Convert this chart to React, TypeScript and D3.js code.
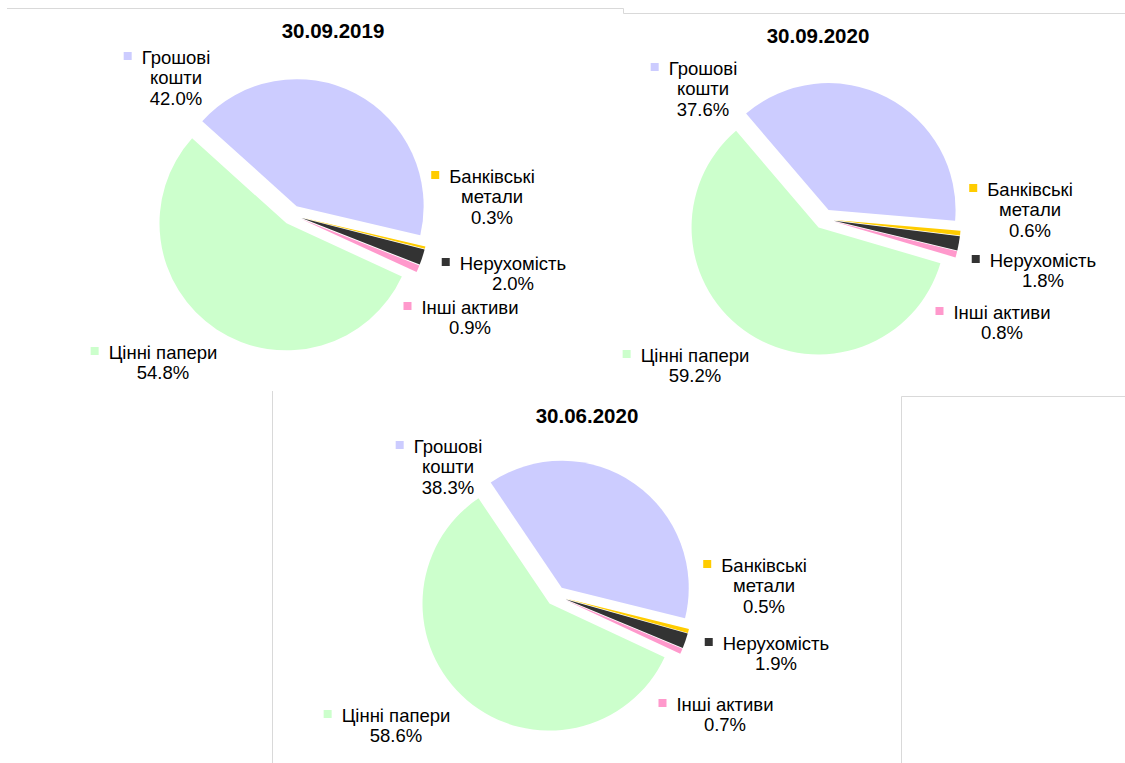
import React, { useEffect, useRef } from "react";
import * as d3 from "d3";

// ---- data ----
const categories = ["Грошові кошти", "Банківські метали", "Нерухомість", "Інші активи", "Цінні папери"];
const labelLines = [["Грошові", "кошти"], ["Банківські", "метали"], ["Нерухомість"], ["Інші активи"], ["Цінні папери"]];
const sliceColors = ["#CCCCFF", "#FFCC00", "#333333", "#FF99CC", "#CCFFCC"];
const dates = ["30.09.2019", "30.09.2020", "30.06.2020"];
const values2019 = [42.0, 0.3, 2.0, 0.9, 54.8];
const values2020 = [37.6, 0.6, 1.8, 0.8, 59.2];
const values2020Q2 = [38.3, 0.5, 1.9, 0.7, 58.6];
const seriesValues = [values2019, values2020, values2020Q2];

// ---- layout (positions only) ----
const chartCenters = [[292, 215], [824, 219], [556, 596]];
const startAnglesDeg = [-48, -40.5, -34];
const titlePos = [[333, 30], [818, 35], [587, 415]];
const labelPos = [
  [[176, 57], [492, 176], [513, 263], [470, 307], [163, 352]],
  [[703, 68], [1030, 189], [1043, 260], [1002, 312], [695, 355]],
  [[448, 446], [764, 565], [776, 643], [725, 704], [396, 715]],
];
const RADIUS = 127;
const EXPLODE = 10;
const LINE_H = 20.5;
const FONT = "Arial, 'Liberation Sans', sans-serif";

export default function App() {
  const ref = useRef<SVGSVGElement>(null);

  useEffect(() => {
    const svg = d3.select(ref.current);
    svg.selectAll("*").remove();
    svg.append("rect").attr("width", 1125).attr("height", 763).attr("fill", "#fff");

    // chart frames
    const frame = svg.append("g").attr("stroke", "#d9d9d9").attr("stroke-width", 1).attr("fill", "none");
    frame.append("path").attr("d", "M7,8.5H623.5V13.5H1125");
    frame.append("path").attr("d", "M272.5,391V763");
    frame.append("path").attr("d", "M901.5,763V396.5H1125");

    const arc = d3.arc<d3.PieArcDatum<number>>().innerRadius(0).outerRadius(RADIUS);

    seriesValues.forEach((vals, ci) => {
      const [cx, cy] = chartCenters[ci];
      const sa = (startAnglesDeg[ci] * Math.PI) / 180;
      const pie = d3.pie<number>().sort(null).value((d) => d).startAngle(sa).endAngle(sa + 2 * Math.PI);
      const arcs = pie(vals);
      const g = svg.append("g").attr("transform", `translate(${cx},${cy})`);
      g.selectAll("path")
        .data(arcs)
        .join("path")
        .attr("d", arc)
        .attr("fill", (_d, i) => sliceColors[i])
        .attr("transform", (d) => {
          const mid = (d.startAngle + d.endAngle) / 2;
          return `translate(${EXPLODE * Math.sin(mid)},${-EXPLODE * Math.cos(mid)})`;
        });

      svg.append("text")
        .attr("x", titlePos[ci][0])
        .attr("y", titlePos[ci][1])
        .attr("text-anchor", "middle")
        .attr("dominant-baseline", "central")
        .attr("font-family", FONT)
        .attr("font-weight", "bold")
        .attr("font-size", 20.5)
        .attr("fill", "#000")
        .text(dates[ci]);

      vals.forEach((v, i) => {
        const [lx, ly] = labelPos[ci][i];
        const lines = [...labelLines[i], d3.format(".1f")(v) + "%"];
        const lg = svg.append("g").attr("font-family", FONT).attr("font-size", 18.5).attr("fill", "#000");
        let firstWidth = 0;
        lines.forEach((t, k) => {
          const te = lg.append("text")
            .attr("x", lx)
            .attr("y", ly + k * LINE_H)
            .attr("text-anchor", "middle")
            .attr("dominant-baseline", "central")
            .text(t);
          if (k === 0) firstWidth = (te.node() as SVGTextElement).getComputedTextLength();
        });
        lg.append("rect")
          .attr("x", lx - firstWidth / 2 - 18)
          .attr("y", ly - 5)
          .attr("width", 8)
          .attr("height", 8)
          .attr("fill", sliceColors[i])
          .append("title").text(categories[i]);
      });
    });
  }, []);

  return (
    <svg
      ref={ref}
      width={1125}
      height={763}
      style={{ position: "absolute", left: 0, top: 0, display: "block" }}
    />
  );
}
